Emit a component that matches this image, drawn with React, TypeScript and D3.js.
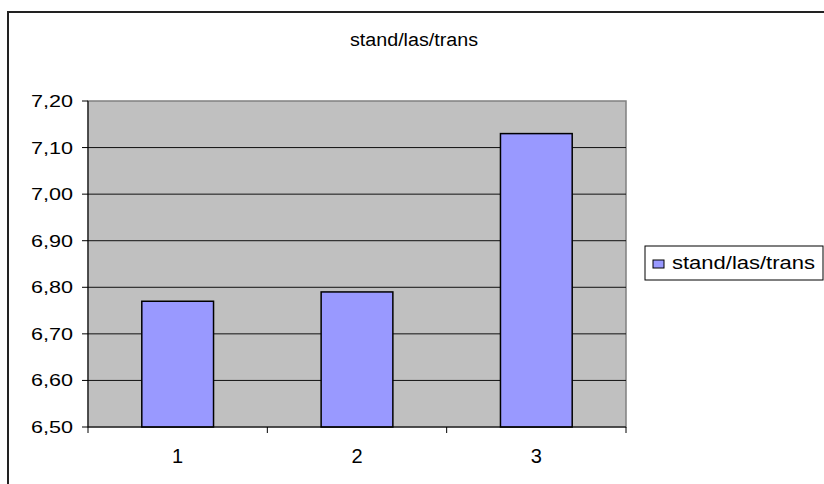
import React from "react";
import * as d3 from "d3";

const categories = ["1", "2", "3"];
const values = [6.77, 6.79, 7.13];
const yTicks = [6.5, 6.6, 6.7, 6.8, 6.9, 7.0, 7.1, 7.2];
const title = "stand/las/trans";
const seriesName = "stand/las/trans";

export default function App() {
  const W = 824, H = 484;
  const left = 88, right = 626, top = 101, bottom = 427;
  const x = d3.scaleBand().domain(categories).range([left, right]).paddingInner(0.6).paddingOuter(0.3);
  const xb = d3.scaleBand().domain(categories).range([left, right]);
  const y = d3.scaleLinear().domain([6.5, 7.2]).range([bottom, top]);
  const fmt = (v: number) => v.toFixed(2).replace(".", ",");
  const font = "'Liberation Sans', Arial, sans-serif";
  return (
    <svg width={W} height={H} style={{ position: "absolute", left: 0, top: 0 }} fontFamily={font}>
      <rect x={0} y={0} width={W} height={H} fill="#fff" />
      <rect x={8} y={12} width={W + 10} height={H + 10} fill="#fff" stroke="#222" strokeWidth={2} />
      <text x={350} y={46} fontSize={18} textLength={128} lengthAdjust="spacingAndGlyphs" fill="#000">{title}</text>
      <rect x={left} y={top} width={right - left} height={bottom - top} fill="#C0C0C0" stroke="#808080" strokeWidth={1.5} />
      {yTicks.slice(1, -1).map((t) => (
        <line key={t} x1={left} x2={right} y1={y(t)} y2={y(t)} stroke="#111" strokeWidth={1} />
      ))}
      {values.map((v, i) => (
        <rect key={i} x={x(categories[i])} y={y(v)} width={x.bandwidth()} height={bottom - y(v)}
          fill="#9999FF" stroke="#000" strokeWidth={1.5} />
      ))}
      <line x1={left} x2={left} y1={top} y2={bottom} stroke="#000" strokeWidth={1} />
      <line x1={left} x2={right} y1={bottom} y2={bottom} stroke="#000" strokeWidth={1} />
      {yTicks.map((t) => (
        <g key={t}>
          <line x1={left - 6} x2={left} y1={y(t)} y2={y(t)} stroke="#000" strokeWidth={1} />
          <text x={31} y={y(t) + 6} fontSize={17} textLength={42} lengthAdjust="spacingAndGlyphs" fill="#000">{fmt(t)}</text>
        </g>
      ))}
      {[...categories.map((c) => xb(c) as number), right].map((p, i) => (
        <line key={i} x1={p} x2={p} y1={bottom} y2={bottom + 6} stroke="#000" strokeWidth={1} />
      ))}
      {categories.map((c) => (
        <text key={c} x={(xb(c) as number) + xb.bandwidth() / 2} y={463} fontSize={20} textAnchor="middle" fill="#000">{c}</text>
      ))}
      <rect x={645} y={246} width={178} height={34} fill="#fff" stroke="#000" strokeWidth={1} />
      <rect x={653} y={260} width={11} height={8} fill="#9999FF" stroke="#000" strokeWidth={1} />
      <text x={672} y={269} fontSize={17.5} textLength={143} lengthAdjust="spacingAndGlyphs" fill="#000">{seriesName}</text>
    </svg>
  );
}
